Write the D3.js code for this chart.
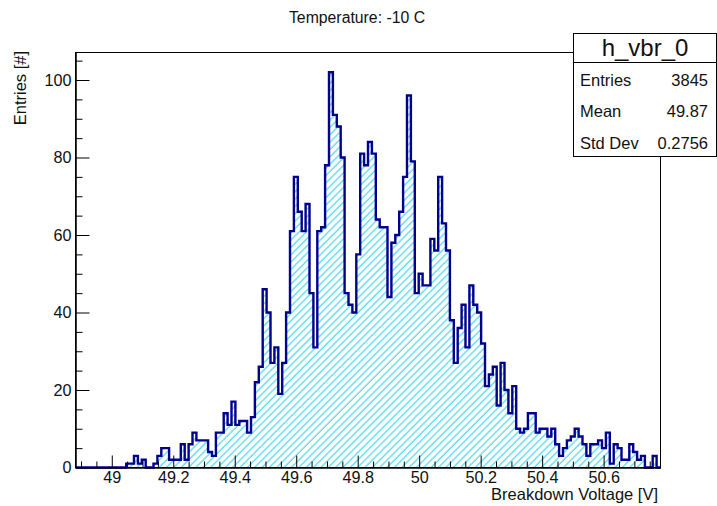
<!DOCTYPE html>
<html>
<head>
<meta charset="utf-8">
<script src="https://cdn.jsdelivr.net/npm/d3@7"></script>
<style>
  html, body { margin: 0; padding: 0; background: #ffffff; }
  svg { display: block; }
  text { font-family: "Liberation Sans", Arial, Helvetica, sans-serif; fill: #111; }
</style>
</head>
<body>
<svg id="chart" width="717" height="506"></svg>
<script>
// Breakdown voltage histogram, 150 equal bins
const binCounts = [
  0, 0, 0, 0, 0, 0, 0, 0, 0, 0, 0, 0, 0,
  1, 1, 3, 1, 2, 0, 0, 1, 3, 5, 5, 2, 2, 2, 6, 2, 6, 9, 7, 7, 7, 4, 3, 9, 9, 14, 11, 17, 11, 12, 12,
  9, 13, 22, 26, 46, 40, 27, 31, 19, 27, 40, 61, 75, 66, 61, 68, 45, 31, 61, 62,
  78, 102, 91, 88, 80, 45, 42, 40, 55, 81, 78, 84, 81, 64, 62, 62, 44, 58, 60, 66,
  75, 96, 79, 45, 50, 47, 47, 59, 56, 75, 63, 56,
  38, 27, 36, 42, 31, 47, 42, 40, 32, 21, 24, 26, 16, 27, 20, 14, 21, 10, 9, 10, 14, 14, 9,
  10, 10, 8, 10, 6, 3, 5, 7, 8, 10, 8, 6, 3, 6, 6, 7, 5, 9, 1, 6, 5, 2,
  2, 6, 4, 2, 3, 0, 0, 3, 0
];
const xMin = 48.882;
const xMax = 50.785;
const yMax = 107.1;

const xMajorTicks = [49, 49.2, 49.4, 49.6, 49.8, 50, 50.2, 50.4, 50.6];
const xTickLabels = ["49", "49.2", "49.4", "49.6", "49.8", "50", "50.2", "50.4", "50.6"];
const yMajorTicks = [0, 20, 40, 60, 80, 100];
const yTickLabels = ["0", "20", "40", "60", "80", "100"];

const titleText = "Temperature: -10 C";
const xTitle = "Breakdown Voltage [V]";
const yTitle = "Entries [#]";

const statsName = "h_vbr_0";
const statLabels = ["Entries", "Mean", "Std Dev"];
const statValues = ["3845", "49.87", "0.2756"];

// frame geometry
const frame = { left: 75.5, right: 660.5, top: 52.5, bottom: 467.5 };

const svg = d3.select("#chart");

const x = d3.scaleLinear().domain([xMin, xMax]).range([frame.left, frame.right]);
const y = d3.scaleLinear().domain([0, yMax]).range([frame.bottom, frame.top]);

// hatch fill
const defs = svg.append("defs");
defs.append("pattern")
  .attr("id", "hatch")
  .attr("patternUnits", "userSpaceOnUse")
  .attr("width", 5.2)
  .attr("height", 10)
  .attr("patternTransform", "rotate(45)")
  .append("line")
  .attr("x1", 1).attr("y1", 0)
  .attr("x2", 1).attr("y2", 10)
  .attr("stroke", "#35d3f2")
  .attr("stroke-width", 1.1);

defs.append("clipPath").attr("id", "frameClip")
  .append("rect")
  .attr("x", frame.left).attr("y", frame.top)
  .attr("width", frame.right - frame.left)
  .attr("height", frame.bottom - frame.top);

// bin edges from the axis range
const nBins = binCounts.length;
const binWidth = (xMax - xMin) / nBins;
const stepPoints = binCounts.map((c, i) => [xMin + i * binWidth, c]);
stepPoints.push([xMax, binCounts[nBins - 1]]);

const area = d3.area()
  .curve(d3.curveStepAfter)
  .x(d => x(d[0]))
  .y0(y(0))
  .y1(d => y(d[1]));

const outlinePoints = [[xMin, 0]].concat(stepPoints);
const line = d3.line()
  .curve(d3.curveStepAfter)
  .x(d => x(d[0]))
  .y(d => y(d[1]));

const plot = svg.append("g").attr("clip-path", "url(#frameClip)");

plot.append("path")
  .attr("d", area(stepPoints))
  .attr("fill", "url(#hatch)");

// outline, closed down to the baseline at the last edge
const outlineD = line(outlinePoints) + "L" + x(xMax) + "," + y(0);
svg.append("path")
  .attr("d", outlineD)
  .attr("fill", "none")
  .attr("stroke", "#00008f")
  .attr("stroke-width", 2.4)
  .attr("stroke-linejoin", "miter");

// frame
svg.append("rect")
  .attr("x", frame.left).attr("y", frame.top)
  .attr("width", frame.right - frame.left)
  .attr("height", frame.bottom - frame.top)
  .attr("fill", "none")
  .attr("stroke", "#000")
  .attr("stroke-width", 1);

// x axis: major and minor ticks pointing into the frame
const xMinorTicks = d3.range(978, 1016)
  .filter(i => i % 4 !== 0)
  .map(i => i * 0.05);

const xAxis = d3.axisBottom(x)
  .tickValues(xMajorTicks)
  .tickFormat((d, i) => xTickLabels[i])
  .tickSizeInner(-12)
  .tickSizeOuter(0)
  .tickPadding(4);

svg.append("g")
  .attr("transform", `translate(0,${frame.bottom})`)
  .call(xAxis);

svg.append("g")
  .attr("transform", `translate(0,${frame.bottom})`)
  .call(d3.axisBottom(x).tickValues(xMinorTicks).tickFormat("").tickSizeInner(-6).tickSizeOuter(0));

// y axis
const yMinorTicks = d3.range(0, 106, 5).filter(v => v % 20 !== 0);

const yAxis = d3.axisLeft(y)
  .tickValues(yMajorTicks)
  .tickFormat((d, i) => yTickLabels[i])
  .tickSizeInner(-14)
  .tickSizeOuter(0)
  .tickPadding(4);

svg.append("g")
  .attr("transform", `translate(${frame.left},0)`)
  .call(yAxis);

svg.append("g")
  .attr("transform", `translate(${frame.left},0)`)
  .call(d3.axisLeft(y).tickValues(yMinorTicks).tickFormat("").tickSizeInner(-7).tickSizeOuter(0));

svg.selectAll(".domain").attr("stroke", "#000");
svg.selectAll(".tick line").attr("stroke", "#000");
svg.selectAll(".tick text")
  .attr("font-size", 16.2)
  .attr("font-family", "'Liberation Sans', Arial, Helvetica, sans-serif")
  .attr("fill", "#111");

// titles
svg.append("text")
  .attr("x", 357).attr("y", 22.5)
  .attr("text-anchor", "middle")
  .attr("font-size", 15.8)
  .text(titleText);

svg.append("text")
  .attr("x", 658).attr("y", 499.5)
  .attr("text-anchor", "end")
  .attr("font-size", 16.5)
  .text(xTitle);

svg.append("text")
  .attr("transform", "translate(26,51) rotate(-90)")
  .attr("text-anchor", "end")
  .attr("font-size", 16.5)
  .text(yTitle);

// statistics box
const box = { left: 573.5, right: 716.5, top: 33.5, bottom: 156.5, divider: 62.5 };
const gs = svg.append("g");
gs.append("rect")
  .attr("x", box.left).attr("y", box.top)
  .attr("width", box.right - box.left)
  .attr("height", box.bottom - box.top)
  .attr("fill", "#fff")
  .attr("stroke", "#000")
  .attr("stroke-width", 1);
gs.append("line")
  .attr("x1", box.left).attr("x2", box.right)
  .attr("y1", box.divider).attr("y2", box.divider)
  .attr("stroke", "#000");
gs.append("text")
  .attr("x", (box.left + box.right) / 2).attr("y", 55.5)
  .attr("text-anchor", "middle")
  .attr("font-size", 24)
  .text(statsName);

const rowBase = [85.5, 117, 149];
statLabels.forEach((lab, i) => {
  gs.append("text")
    .attr("x", 580).attr("y", rowBase[i])
    .attr("font-size", 16.5)
    .text(lab);
  gs.append("text")
    .attr("x", 708).attr("y", rowBase[i])
    .attr("text-anchor", "end")
    .attr("font-size", 16.5)
    .text(statValues[i]);
});
</script>
</body>
</html>
